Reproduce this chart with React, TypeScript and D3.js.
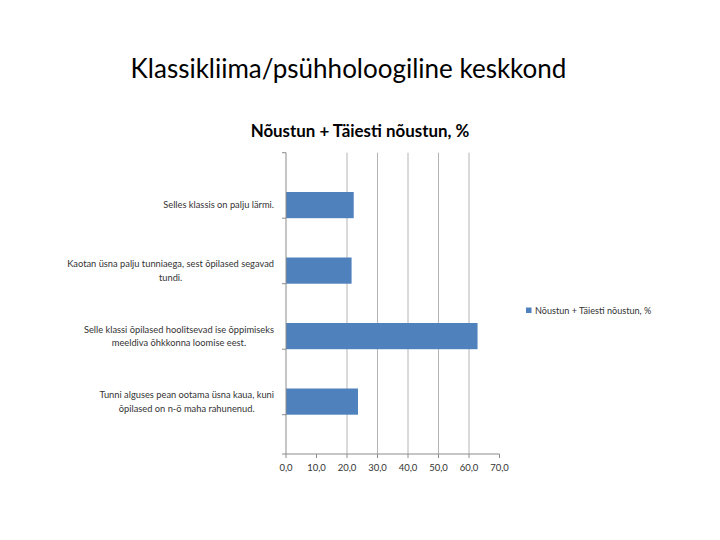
import React, { useEffect, useRef } from "react";
import * as d3 from "d3";

const pageTitle = "Klassikliima/psühholoogiline keskkond";
const chartTitle = "Nõustun + Täiesti nõustun, %";
const seriesName = "Nõustun + Täiesti nõustun, %";
const categories = [
  "Selles klassis on palju lärmi.",
  "Kaotan üsna palju tunniaega, sest õpilased segavad\ntundi.",
  "Selle klassi õpilased hoolitsevad ise õppimiseks\nmeeldiva õhkkonna loomise eest.",
  "Tunni alguses pean ootama üsna kaua, kuni\nõpilased on n-ö maha rahunenud.",
];
const values = [22.2, 21.5, 62.8, 23.6];
const xTicks = [0, 10, 20, 30, 40, 50, 60, 70];
const gridValues = [20, 30, 40, 50, 60];

export default function App() {
  const ref = useRef<SVGSVGElement>(null);
  useEffect(() => {
    const svg = d3.select(ref.current);
    svg.selectAll("*").remove();
    const font = "Lato, 'Open Sans', sans-serif";
    const x = d3.scaleLinear().domain([0, 70]).range([286, 499.5]);
    const y = d3.scaleBand<string>().domain(categories).range([152.7, 454]).padding(0.6);
    const step = y.step();

    svg.append("rect").attr("width", 720).attr("height", 540).attr("fill", "#fff");

    svg.append("text").attr("x", 348.5).attr("y", 78).attr("text-anchor", "middle")
      .attr("font-family", font).attr("font-size", 26).attr("fill", "#000").text(pageTitle);

    svg.append("text").attr("x", 360).attr("y", 137).attr("text-anchor", "middle")
      .attr("font-family", font).attr("font-weight", "bold").attr("font-size", 16.9)
      .attr("fill", "#000").text(chartTitle);

    // gridlines
    svg.append("g").selectAll("line").data(gridValues).join("line")
      .attr("x1", d => x(d)).attr("x2", d => x(d))
      .attr("y1", 152.7).attr("y2", 454)
      .attr("stroke", "#b4b4b4").attr("stroke-width", 1);

    // bars
    svg.append("g").selectAll("rect").data(values).join("rect")
      .attr("x", x(0)).attr("y", (_, i) => y(categories[i])!)
      .attr("width", d => x(d) - x(0)).attr("height", y.bandwidth())
      .attr("fill", "#4f81bd");

    // y axis line and ticks
    const yBounds = d3.range(categories.length + 1).map(i => 152.7 + i * step);
    svg.append("line").attr("x1", 286).attr("x2", 286).attr("y1", 152.7).attr("y2", 454)
      .attr("stroke", "#8c8c8c");
    svg.append("g").selectAll("line").data(yBounds).join("line")
      .attr("x1", 282).attr("x2", 286).attr("y1", d => d).attr("y2", d => d)
      .attr("stroke", "#8c8c8c");

    // x axis
    svg.append("line").attr("x1", 282).attr("x2", x(70)).attr("y1", 454).attr("y2", 454)
      .attr("stroke", "#8c8c8c");
    svg.append("g").selectAll("line").data(xTicks).join("line")
      .attr("x1", d => x(d)).attr("x2", d => x(d)).attr("y1", 454).attr("y2", 458)
      .attr("stroke", "#8c8c8c");
    svg.append("g").selectAll("text").data(xTicks).join("text")
      .attr("x", d => x(d)).attr("y", 471).attr("text-anchor", "middle")
      .attr("font-family", font).attr("font-size", 9.5).attr("fill", "#333")
      .text(d => d3.format(".1f")(d).replace(".", ","));

    // category labels, centered lines, block right aligned
    categories.forEach((c) => {
      const lines = c.split("\n");
      const g = svg.append("g");
      const texts = lines.map((l) =>
        g.append("text").attr("font-family", font).attr("font-size", 9.3)
          .attr("fill", "#333").attr("text-anchor", "middle").text(l)
      );
      const widths = texts.map(t => (t.node() as SVGTextElement).getComputedTextLength());
      const maxW = Math.max(...widths);
      const cx = 274 - maxW / 2;
      const cy = y(c)! + y.bandwidth() / 2;
      const lh = 13.5;
      texts.forEach((t, j) => {
        t.attr("x", cx).attr("y", cy + (j - (lines.length - 1) / 2) * lh + 3.2);
      });
    });

    // legend
    svg.append("rect").attr("x", 526).attr("y", 307.5).attr("width", 5.5).attr("height", 5.5)
      .attr("fill", "#4f81bd");
    svg.append("text").attr("x", 535).attr("y", 313.5).attr("font-family", font)
      .attr("font-size", 9.1).attr("fill", "#333").text(seriesName);
  }, []);
  return (
    <svg ref={ref} width={720} height={540} style={{ position: "absolute", left: 0, top: 0 }} />
  );
}
